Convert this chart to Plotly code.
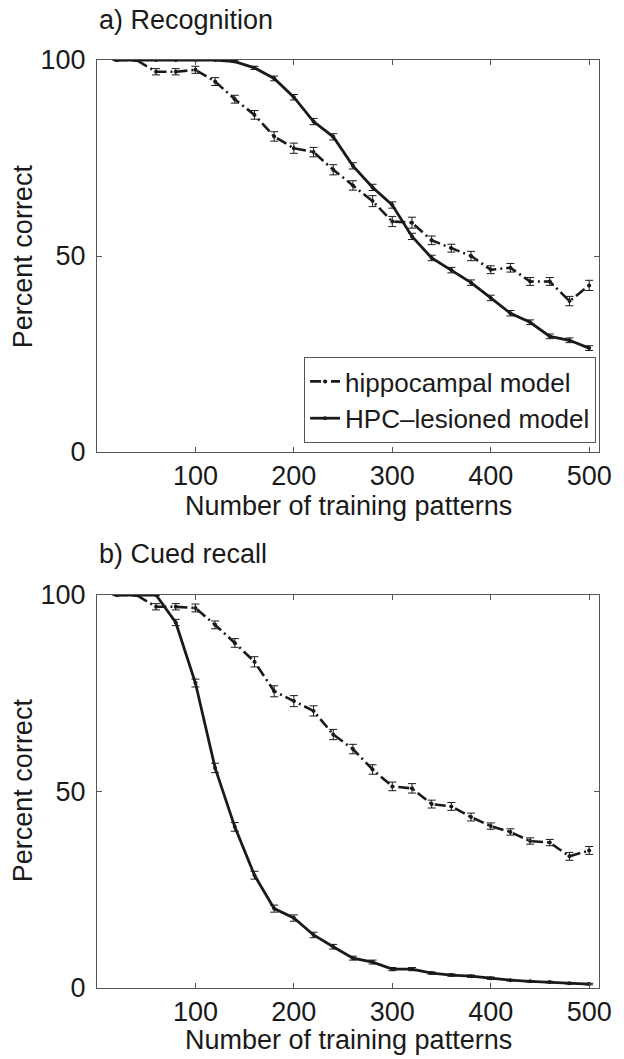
import plotly.graph_objects as go
from plotly.subplots import make_subplots

# ---- data ----
n_patterns = [20, 40, 60, 80, 100, 120, 140, 160, 180, 200, 220, 240, 260,
              280, 300, 320, 340, 360, 380, 400, 420, 440, 460, 480, 500]

recog_hippo = [100, 100, 97, 97, 97.5, 94.5, 90, 86, 80.5, 77.5, 76.5, 72, 68,
               64, 58.8, 58.5, 54, 52, 50, 46.5, 47, 43.5, 43.5, 38.5, 42.5]
recog_hippo_err = [0.2, 0.3, 0.8, 0.8, 0.9, 1.0, 1.0, 1.1, 1.2, 1.3, 1.2, 1.3, 1.2,
                   1.4, 1.3, 1.4, 1.1, 1.0, 1.2, 1.0, 1.1, 1.0, 1.0, 1.2, 1.3]
recog_lesion = [100, 100, 100, 100, 100, 100, 99.6, 98, 95.3, 90.5, 84.3, 80.4, 73,
                67.5, 63, 55, 49.5, 46.4, 43.2, 39.3, 35.4, 33.1, 29.5, 28.5, 26.5]
recog_lesion_err = [0.1, 0.1, 0.1, 0.1, 0.1, 0.1, 0.2, 0.4, 0.6, 0.7, 0.8, 0.8, 0.8,
                    0.8, 0.8, 0.8, 0.7, 0.7, 0.7, 0.7, 0.7, 0.6, 0.6, 0.6, 0.6]

recall_hippo = [100, 100, 97, 97, 96.7, 92.4, 87.8, 83, 75.5, 73, 70.5, 64.5, 60.8,
                55.6, 51.3, 50.8, 46.8, 46.2, 43.5, 41.2, 39.7, 37.4, 37, 33.5, 35]
recall_hippo_err = [0.2, 0.3, 0.8, 0.8, 1.0, 1.0, 1.1, 1.3, 1.4, 1.4, 1.3, 1.3, 1.2,
                    1.2, 1.1, 1.2, 1.0, 1.0, 1.0, 0.8, 0.8, 0.8, 0.8, 1.0, 1.0]
recall_lesion = [100, 100, 100, 93, 77.6, 56, 41, 28.7, 20.2, 17.8, 13.5, 10.5, 7.6,
                 6.6, 4.8, 4.8, 3.8, 3.3, 3, 2.5, 2, 1.7, 1.5, 1.2, 1.0]
recall_lesion_err = [0.1, 0.1, 0.1, 0.8, 1.0, 1.2, 1.1, 1.0, 0.9, 0.8, 0.7, 0.6, 0.5,
                     0.5, 0.4, 0.4, 0.3, 0.3, 0.3, 0.3, 0.2, 0.2, 0.2, 0.2, 0.2]

x_ticks = [100, 200, 300, 400, 500]
y_ticks = [0, 50, 100]
panel_titles = ["a) Recognition", "b) Cued recall"]
x_title = "Number of training patterns"
y_title = "Percent correct"
names = ["hippocampal model", "HPC\u2013lesioned model"]

# ---- styling ----
FONT = "Liberation Sans, Arial, Helvetica, sans-serif"
FS = 27
INK = "#1a1a1a"
FRAME = "#555"
DASHDOT = "11px,4px,2px,4px"

# pixel layout helpers
W, H = 624, 1059
ML, MR, MT, MB = 97, 17, 60, 71
PW = W - ML - MR
PH = H - MT - MB


def px_x(px):
    return (px - ML) / PW


def px_y(py):
    return (H - MB - py) / PH


fig = make_subplots(rows=2, cols=1)
fig.update_layout(
    xaxis=dict(domain=[0, 1]), yaxis=dict(domain=[px_y(452), 1.0]),
    xaxis2=dict(domain=[0, 1]), yaxis2=dict(domain=[0.0, px_y(595)]),
)

series = [
    (1, recog_hippo, recog_hippo_err, recog_lesion, recog_lesion_err, True),
    (2, recall_hippo, recall_hippo_err, recall_lesion, recall_lesion_err, False),
]
for row, hy, he, ly, le, show in series:
    fig.add_trace(go.Scatter(
        x=n_patterns, y=hy, name=names[0], mode="lines+markers",
        line=dict(color=INK, width=2.6, dash=DASHDOT),
        marker=dict(size=4, color=INK),
        error_y=dict(type="data", array=he, color=INK, thickness=1, width=4),
        showlegend=show), row=row, col=1)
    fig.add_trace(go.Scatter(
        x=n_patterns, y=ly, name=names[1], mode="lines+markers",
        line=dict(color=INK, width=2.8),
        marker=dict(size=4, color=INK),
        error_y=dict(type="data", array=le, color=INK, thickness=1, width=4),
        showlegend=show), row=row, col=1)

axis_common = dict(
    showgrid=False, zeroline=False, showline=True, linecolor=FRAME,
    linewidth=1, mirror="ticks", ticks="inside", ticklen=5, tickwidth=1,
    tickcolor=FRAME, tickfont=dict(family=FONT, size=FS, color=INK),
)
for r in (1, 2):
    fig.update_xaxes(range=[0, 510], tickvals=x_ticks, ticklabelstandoff=0,
                     row=r, col=1, **axis_common)
    fig.update_yaxes(range=[0, 100], tickvals=y_ticks, ticklabelstandoff=5,
                     row=r, col=1, **axis_common)

annotations = [
    dict(text=panel_titles[0], x=0, y=px_y(20), xanchor="left", yanchor="middle"),
    dict(text=panel_titles[1], x=0, y=px_y(554), xanchor="left", yanchor="middle"),
    dict(text=x_title, x=0.5, y=px_y(506), xanchor="center", yanchor="middle"),
    dict(text=x_title, x=0.5, y=px_y(1040), xanchor="center", yanchor="middle"),
    dict(text=y_title, x=px_x(22), y=px_y(256), xanchor="center",
         yanchor="middle", textangle=-90),
    dict(text=y_title, x=px_x(22), y=px_y(790), xanchor="center",
         yanchor="middle", textangle=-90),
]
for a in annotations:
    a.update(xref="paper", yref="paper", showarrow=False,
             font=dict(family=FONT, size=FS, color=INK))

fig.update_layout(
    width=W, height=H,
    margin=dict(l=ML, r=MR, t=MT, b=MB),
    paper_bgcolor="white", plot_bgcolor="white",
    annotations=annotations,
    legend=dict(x=px_x(604), y=px_y(443), xanchor="right", yanchor="bottom",
                bgcolor="white", bordercolor=FRAME, borderwidth=1,
                font=dict(family=FONT, size=26, color=INK),
                tracegroupgap=0, itemwidth=30),
)

fig.write_html("out.html",
               config={"displayModeBar": False},
               post_script="document.body.style.margin='0';"
                           "document.body.style.padding='0';")
